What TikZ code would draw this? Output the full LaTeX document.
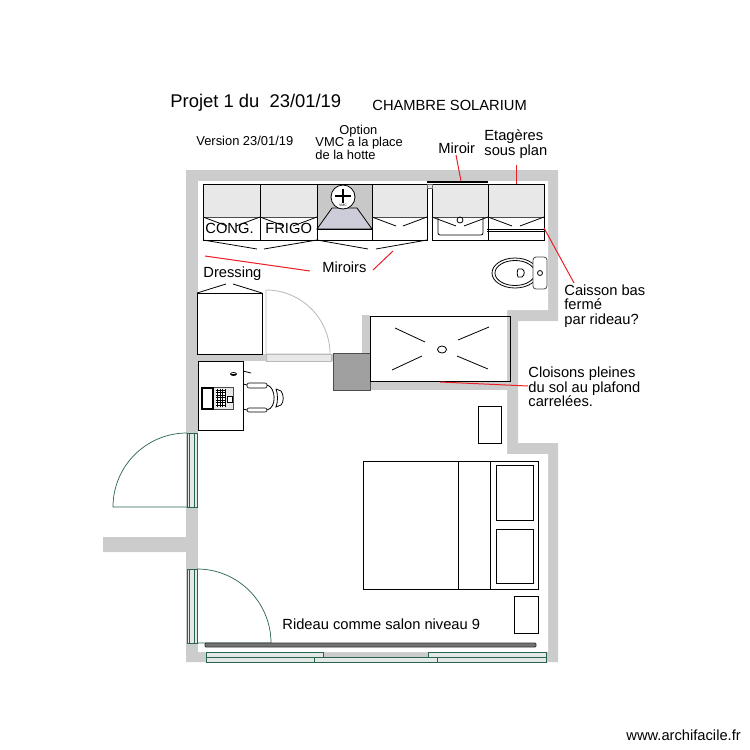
\documentclass[tikz,border=0pt]{standalone}
\usepackage{fontspec}
\setmainfont{Liberation Sans}
\usepackage{xcolor}
\definecolor{wall-grey}{RGB}{204, 204, 204}
\definecolor{unit-grey}{RGB}{232, 232, 232}
\definecolor{hood-grey}{RGB}{200, 200, 200}
\definecolor{hood-blue}{RGB}{205, 205, 218}
\definecolor{block-grey}{RGB}{160, 160, 160}
\definecolor{door-grey}{RGB}{185, 185, 185}
\definecolor{note-red}{RGB}{236, 31, 38}
\definecolor{window-green}{RGB}{40, 100, 75}
\definecolor{window-fill}{RGB}{228, 232, 230}
\tikzset{
    plantext/.style={anchor=west, inner sep=0pt, align=left, font=\fontsize{14.7}{14.5}\selectfont},
    plannote/.style={plantext, font=\fontsize{12.9}{12.5}\selectfont},
    leader/.style={draw=note-red, line width=1pt},
    windowpane/.style={draw=window-green, fill=window-fill, line width=0.7pt}
}
\begin{document}
\begin{tikzpicture}[x=1pt, y=-1pt, line width=0.8pt]
\useasboundingbox (0,0) rectangle (750,750);
% walls
\fill[wall-grey] (186,170) -- (558,170) -- (558,321) -- (518,321) -- (518,443) -- (558,443) -- (558,662) -- (186,662) -- (186,552) -- (103,552) -- (103,537) -- (186,537) -- cycle;
\fill[white] (198,181) -- (548,181) -- (548,310) -- (507,310) -- (507,454) -- (548,454) -- (548,652) -- (198,652) -- cycle;
\fill[wall-grey] (198,354) rectangle (333,361);
\fill[wall-grey] (362,315) rectangle (370,354);
\fill[wall-grey] (370,381) rectangle (507,390);
\filldraw[fill=block-grey, draw=black!70] (333,353) rectangle (370,390);
% units along the top wall
\fill[unit-grey] (203,184) rectangle (317,217);
\fill[unit-grey] (372,184) rectangle (427,217);
\fill[unit-grey] (432,184) rectangle (544,217);
\fill[hood-grey] (317,184) rectangle (372,229);
\filldraw[fill=hood-blue, draw=black] (317,229) -- (332,208) -- (357,208) -- (372,229) -- cycle;
\foreach \xa/\xb in {203/260, 260/317, 317/372, 372/427, 432/488, 488/544}
    \draw (\xa,184) rectangle (\xb,240);
\foreach \xa/\xb in {203/260, 260/317, 372/427, 432/488, 488/544} {
    \draw[black!70] (\xa,217) -- (\xb,217);
    \draw (\xa,217) -- ++(24,9);
    \draw (\xb,217) -- ++(-24,9);
}
\draw (317,229) -- (372,229);
\draw (203,240) -- (257,249);
\draw (264,249) -- (317,240);
\draw (317,240) -- (368,249);
\draw (376,249) -- (427,240);
% fan
\filldraw[fill=white, draw=black] (343,197) circle (12);
\draw[line width=1.2pt] (343,189) -- (343,203);
\draw[line width=1.2pt] (335,196) -- (351,196);
\node[font=\fontsize{3.5}{4}\selectfont, inner sep=0pt] (vmc) at (343,205) {VMC};
% mirror and basin
\draw[line width=2pt] (427,182) -- (488,182);
\filldraw[fill=unit-grey, draw=black!60] (427,184) rectangle (432,188);
\draw[rounded corners=2pt] (438,217) -- (438,235) -- (483,235) -- (483,217);
\draw (460,220) circle (3);
% shelves
\draw (487,229) -- (544,229);
\draw (487,231) -- (544,231);
% toilet
\draw (515,273) ellipse (23 and 15);
\draw (515,273) ellipse (20 and 12.5);
\draw (518,269) -- (522,269) .. controls (525,270) and (525,275) .. (522,277) -- (518,277) .. controls (517,275) and (517,271) .. (518,269);
\filldraw[fill=white, draw=black!70, rounded corners=3pt] (533,257) rectangle (547,289);
\draw (540,273) circle (2.5);
% dressing
\draw (197,293) rectangle (262,354);
\draw (197,293) -- (226,284);
\draw (262,293) -- (233,284);
% door to the bathroom
\draw[door-grey] (266,354) -- (266,290) arc (-90:0:64) -- cycle;
\filldraw[fill=unit-grey, draw=door-grey] (266,354) rectangle (331,361);
% desk
\draw (198,361) rectangle (243,430);
\filldraw[fill=unit-grey, draw=black!70] (201,387) rectangle (233,409);
\filldraw[fill=white, draw=black, line width=1.2pt] (202,388) rectangle (213,409);
\fill[white] (216,389) rectangle (226,407);
\draw[step=2.5pt, line width=0.5pt] (216,389) grid (226,407);
\draw[fill=white, line width=0.5pt] (227,396) rectangle (232,402);
\draw (233.5,374) ellipse (3 and 1.5);
\draw (231,374) -- (236,374);
\draw (243,371) -- (251,373);
% chair
\draw[rounded corners=2pt, line width=0.6pt] (247,383) rectangle (267,388);
\draw[rounded corners=2pt, line width=0.6pt] (247,408) rectangle (267,412);
\draw (267,385) .. controls (276,387) and (277,408) .. (267,410);
\draw (276,389) -- (281,391) .. controls (284,395) and (284,402) .. (281,405) -- (276,407) .. controls (278,402) and (278,394) .. (276,389);
\draw (243,384) -- (247,385);
\draw (243,409) -- (247,410);
% shower
\draw (370,316) rectangle (510,381);
\draw (395,328) -- (425,342);
\draw (489,327) -- (458,340);
\draw (392,370) -- (422,356);
\draw (488,369) -- (457,356);
\draw (442,349.5) ellipse (4.5 and 3.5);
% bed
\draw (363,461) rectangle (538,589);
\draw (458,461) -- (458,589);
\draw (490,461) -- (490,589);
\draw[line width=1pt] (496,465) rectangle (533,520);
\draw[line width=1pt] (496,529) rectangle (533,583);
\draw (478,406) rectangle (501,443);
\draw (514,596) rectangle (538,633);
% windows
\foreach \ya/\yb in {433/507, 569/643} {
    \draw[windowpane] (187,\ya) rectangle (197,\yb);
    \draw[draw=window-green, line width=0.7pt] (189.5,\ya) -- (189.5,\yb);
    \draw[draw=window-green, line width=0.7pt] (194,\ya) -- (194,\yb);
}
\draw[draw=window-green, line width=0.7pt] (187,433) arc (-90:-180:74) -- (187,507);
\draw[draw=window-green, line width=0.7pt] (197,569) arc (-90:0:74) -- (197,643);
% curtain
\filldraw[fill=black!55, draw=black!80, rounded corners=1pt] (205,643) rectangle (536,647);
% sliding windows
\draw[windowpane] (206,652) rectangle (323,657);
\draw[windowpane] (206,657) rectangle (314,662);
\draw[windowpane] (428,652) rectangle (546,657);
\draw[windowpane] (437,657) rectangle (546,662);
\draw[windowpane] (314,657) rectangle (437,662);
% texts
\node[plantext, font=\fontsize{18.4}{18}\selectfont] (titre) at (170,103) {Projet 1 du\ \ 23/01/19};
\node[plantext] (chambre) at (372,105) {CHAMBRE SOLARIUM};
\node[plannote] (version) at (196,141) {Version 23/01/19};
\node[plannote, anchor=north west] (option) at (315,124.5) {\hspace*{24pt}Option\\VMC a la place\\de la hotte};
\node[plantext] (miroir) at (438,148) {Miroir};
\node[plantext] (etageres) at (484,144) {Etagères\\sous plan};
\node[plantext] (cong) at (205,228) {CONG.};
\node[plantext] (frigo) at (265,228) {FRIGO};
\node[plantext] (dressing) at (203,274) {Dressing};
\node[plantext] (miroirs) at (322,267) {Miroirs};
\node[plantext] (caisson) at (564,306) {Caisson bas\\fermé\\par rideau?};
\node[plantext] (cloisons) at (528,387) {Cloisons pleines\\du sol au plafond\\carrelées.};
\node[plantext] (rideau) at (282,624) {Rideau comme salon niveau 9};
\node[plantext] (site) at (626,735) {www.archifacile.fr};
% red leaders
\coordinate (miroir-end) at (461,181);
\coordinate (etageres-end) at (516,184);
\coordinate (caisson-end) at (544,228);
\coordinate (dressing-end) at (205,256);
\coordinate (miroirs-end) at (393,251);
\coordinate (cloisons-end) at (440,382);
\draw[leader] (456,155) -- (miroir-end);
\draw[leader] (516,165) -- (etageres-end);
\draw[leader] (574,283) -- (caisson-end);
\draw[leader] (310,271) -- (dressing-end);
\draw[leader] (373,270) -- (miroirs-end);
\draw[leader] (528,386) -- (cloisons-end);
\end{tikzpicture}
\end{document}
